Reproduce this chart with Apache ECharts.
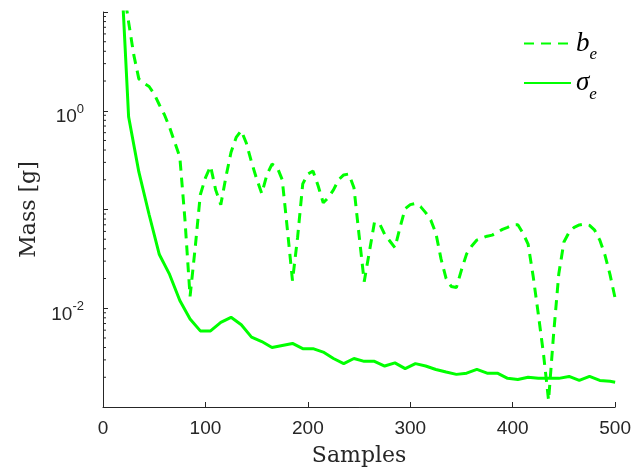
<!DOCTYPE html>
<html><head><meta charset="utf-8">
<script src="https://cdn.jsdelivr.net/npm/echarts@6/dist/echarts.min.js"></script>
<style>html,body{margin:0;padding:0;background:#fff}#c{width:634px;height:472px}</style>
</head><body><div id="c"></div>
<script>
// b_e (dashed) samples and values
const bSamples = [20,25,30,35,40,45,50,55,60,65,70,75,80,85,90,95,100,105,110,115,120,125,130,135,140,145,150,155,160,165,170,175,180,185,190,195,200,205,210,215,220,225,230,235,240,245,250,255,260,265,270,275,280,285,290,295,300,305,310,315,320,325,330,335,340,345,350,355,360,365,370,375,380,385,390,395,400,405,410,415,420,425,430,435,440,445,450,455,460,465,470,475,480,485,490,495,500];
const bValues = [18,7.9,3.7,2.1,1.9,1.76,1.48,1.15,0.91,0.68,0.48,0.34,0.079,0.0132,0.041,0.141,0.209,0.275,0.158,0.112,0.214,0.38,0.537,0.63,0.468,0.302,0.204,0.145,0.224,0.288,0.269,0.2,0.063,0.019,0.0525,0.182,0.229,0.245,0.174,0.117,0.132,0.158,0.2,0.224,0.229,0.166,0.055,0.0186,0.037,0.074,0.072,0.056,0.048,0.041,0.066,0.102,0.112,0.115,0.107,0.093,0.078,0.0575,0.0316,0.02,0.0166,0.0162,0.0245,0.0355,0.0427,0.049,0.0513,0.0537,0.055,0.059,0.063,0.066,0.0697,0.07,0.0575,0.0447,0.0209,0.0087,0.00347,0.00117,0.00562,0.0224,0.0468,0.0589,0.066,0.0697,0.0713,0.069,0.0617,0.049,0.0347,0.0219,0.0126];
// sigma_e (solid) samples and values
const sigmaSamples = [15,25,35,45,55,65,75,85,95,105,115,125,135,145,155,165,175,185,195,205,215,225,235,245,255,265,275,285,295,305,315,325,335,345,355,365,375,385,395,405,415,425,435,445,455,465,475,485,495,500];
const sigmaValues = [100,0.87,0.24,0.089,0.035,0.022,0.012,0.0078,0.0059,0.0059,0.0072,0.0081,0.0068,0.0051,0.0046,0.0040,0.0042,0.0044,0.0039,0.0039,0.0036,0.0031,0.00275,0.0031,0.0029,0.0029,0.0026,0.0028,0.00245,0.00275,0.0026,0.0024,0.00226,0.00214,0.0022,0.0024,0.0022,0.0022,0.00195,0.0019,0.0020,0.00195,0.00195,0.00195,0.00204,0.00186,0.00204,0.00186,0.00182,0.00178];
// axis ticks
const xTickValues = [0,100,200,300,400,500];
const yLabelledExponents = [0,-2];
const yMinorTicks = [0.002,0.003,0.004,0.005,0.006,0.007,0.008,0.009,0.02,0.03,0.04,0.05,0.06,0.07,0.08,0.09,0.2,0.3,0.4,0.5,0.6,0.7,0.8,0.9,2,3,4,5,6,7,8,9];

const AX = '#262626';
const GREEN = '#00ff00';
const chart = echarts.init(document.getElementById('c'), null, {renderer: 'canvas'});
chart.setOption({
  animation: false,
  backgroundColor: '#fff',
  grid: {left: 103, right: 16, top: 12, bottom: 65, containLabel: false},
  legend: {
    orient: 'vertical', left: 518, top: 25,
    itemWidth: 47, itemHeight: 14, itemGap: 6,
    data: ['b_e', 'sigma_e'],
    itemStyle: {opacity: 0},
    formatter: n => n === 'b_e' ? '{it|b}{sub|e}' : '{it|σ}{sub|e}',
    textStyle: {
      color: '#000',
      rich: {
        it: {fontFamily: 'Liberation Serif', fontStyle: 'italic', fontSize: 27, lineHeight: 28, verticalAlign: 'middle'},
        sub: {fontFamily: 'Liberation Serif', fontStyle: 'italic', fontSize: 17, lineHeight: 28, verticalAlign: 'bottom', padding: [0, 0, -6, 0]}
      }
    }
  },
  xAxis: {
    type: 'value', min: 0, max: 500, interval: 100,
    name: 'Samples', nameLocation: 'middle', nameGap: 38,
    nameTextStyle: {fontFamily: 'DejaVu Serif', fontSize: 22, color: AX},
    axisLine: {show: true, lineStyle: {color: AX, width: 1}},
    axisTick: {show: true, inside: true, length: 5, lineStyle: {color: AX}},
    axisLabel: {fontFamily: 'Liberation Sans', fontSize: 19, color: AX, margin: 12,
      formatter: v => xTickValues.includes(v) ? String(v) : ''},
    splitLine: {show: false}
  },
  yAxis: {
    type: 'log', logBase: 10, min: 0.001, max: 10,
    name: 'Mass [g]', nameLocation: 'middle', nameGap: 62,
    nameTextStyle: {fontFamily: 'DejaVu Serif', fontSize: 22, color: AX},
    axisLine: {show: true, lineStyle: {color: AX, width: 1}},
    axisTick: {show: true, inside: true, length: 5, lineStyle: {color: AX}},
    axisLabel: {
      margin: 19, color: AX, padding: [8, 0, 0, 0],
      formatter: v => {
        const e = Math.round(Math.log10(v));
        return yLabelledExponents.includes(e) ? '{b|10}{s|' + e + '}' : '';
      },
      rich: {
        b: {fontFamily: 'Liberation Sans', fontSize: 19, lineHeight: 24, verticalAlign: 'bottom', color: AX},
        s: {fontFamily: 'Liberation Sans', fontSize: 13, lineHeight: 13, verticalAlign: 'top', color: AX}
      }
    },
    splitLine: {show: false}
  },
  series: [
    {
      name: 'b_e', type: 'line', symbol: 'none', showSymbol: false, clip: true,
      data: bSamples.map((s, i) => [s, bValues[i]]),
      lineStyle: {color: GREEN, width: 3, type: [10, 7]},
      itemStyle: {color: GREEN}
    },
    {
      name: 'sigma_e', type: 'line', symbol: 'none', showSymbol: false, clip: true,
      data: sigmaSamples.map((s, i) => [s, sigmaValues[i]]),
      lineStyle: {color: GREEN, width: 3},
      itemStyle: {color: GREEN}
    },
    {
      name: 'minorTicks', type: 'custom', silent: true, clip: false, z: 5,
      data: yMinorTicks.map(v => [0, v]),
      renderItem: (params, api) => {
        const p = api.coord([0, api.value(1)]);
        return {type: 'line', shape: {x1: p[0], y1: p[1], x2: p[0] + 3, y2: p[1]},
          style: {stroke: AX, lineWidth: 1}};
      }
    }
  ]
});
</script></body></html>
